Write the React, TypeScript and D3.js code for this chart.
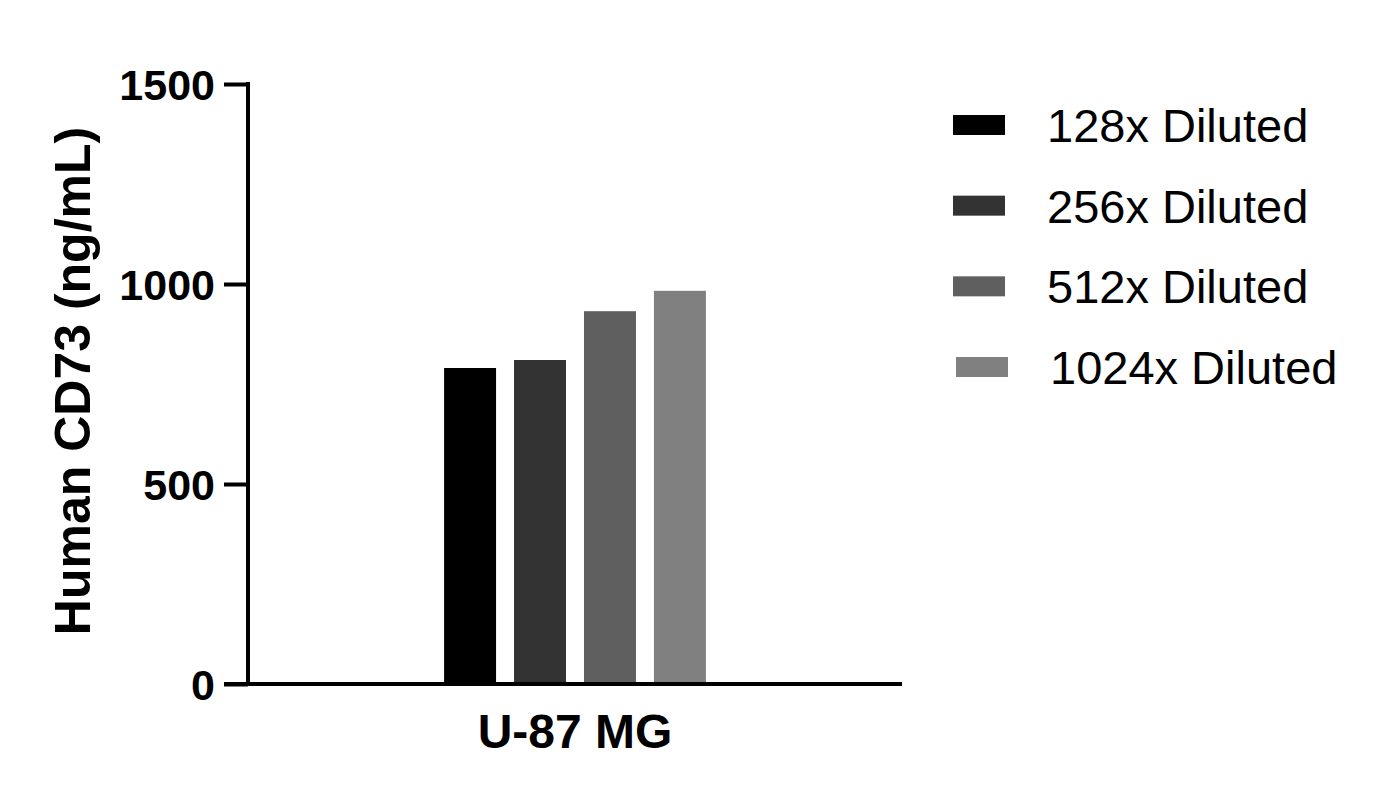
import { useEffect, useRef } from 'react';
import * as d3 from 'd3';

const categories = ['U-87 MG'];
const series = ['128x Diluted', '256x Diluted', '512x Diluted', '1024x Diluted'];
const values = [790, 810, 932, 983];
const colors = ['#000000', '#333333', '#5f5f5f', '#808080'];
const yTicks = [0, 500, 1000, 1500];

export default function App() {
  const svgRef = useRef<SVGSVGElement>(null);

  useEffect(() => {
    if (!svgRef.current) return;
    const W = 1386;
    const H = 804;
    const svg = d3.select(svgRef.current);
    svg.selectAll('*').remove();
    svg.attr('width', W).attr('height', H);

    const font = 'Liberation Sans, Arial, Helvetica, sans-serif';
    const left = 248;
    const right = 902;
    const top = 84;
    const bottom = 684;

    const yScale = d3.scaleLinear().domain([0, 1500]).range([bottom, top]);
    const x0 = d3.scaleBand().domain(categories).range([left, right]);
    const groupW = 280;
    const cx = x0(categories[0])! + x0.bandwidth() / 2;
    const x1 = d3.scaleBand()
      .domain(series)
      .range([cx - groupW / 2, cx + groupW / 2])
      .paddingInner(0.257)
      .paddingOuter(0.13);

    // Bars
    svg.append('g')
      .selectAll('rect')
      .data(series)
      .join('rect')
      .attr('x', (d) => x1(d)!)
      .attr('y', (_, i) => yScale(values[i]))
      .attr('width', x1.bandwidth())
      .attr('height', (_, i) => bottom - yScale(values[i]))
      .attr('fill', (_, i) => colors[i]);

    // Y axis
    const yAxis = svg.append('g')
      .attr('transform', `translate(${left},0)`)
      .call(d3.axisLeft(yScale).tickValues(yTicks).tickSize(24).tickPadding(9).tickFormat((d) => `${d}`));
    yAxis.select('.domain')
      .attr('d', `M0,${top - 2}V${bottom + 2}`)
      .attr('stroke', '#000')
      .attr('stroke-width', 4);
    yAxis.selectAll('.tick line').attr('stroke', '#000').attr('stroke-width', 4);
    yAxis.selectAll('.tick text')
      .attr('fill', '#000')
      .attr('font-family', font)
      .attr('font-weight', 'bold')
      .attr('font-size', '43px')
      .attr('dy', '0.36em');

    // X axis
    const xAxis = svg.append('g')
      .attr('transform', `translate(0,${bottom})`)
      .call(d3.axisBottom(x0).tickSize(0).tickPadding(30));
    xAxis.select('.domain')
      .attr('d', `M${left - 24},0H${right}`)
      .attr('stroke', '#000')
      .attr('stroke-width', 4);
    xAxis.selectAll('.tick text')
      .attr('fill', '#000')
      .attr('font-family', font)
      .attr('font-weight', 'bold')
      .attr('font-size', '48px');

    // Y title
    svg.append('text')
      .attr('transform', `translate(90,${(top + bottom) / 2 - 3}) rotate(-90)`)
      .attr('text-anchor', 'middle')
      .attr('font-family', font)
      .attr('font-weight', 'bold')
      .attr('font-size', '50px')
      .attr('fill', '#000')
      .text('Human CD73 (ng/mL)');

    // Legend
    const legend = svg.append('g');
    const ly = d3.scaleLinear().domain([0, series.length - 1]).range([125, 367]);
    series.forEach((s, i) => {
      const shift = i === series.length - 1 ? 3 : 0;
      legend.append('rect')
        .attr('x', 953 + shift)
        .attr('y', ly(i) - 10)
        .attr('width', 52)
        .attr('height', 20)
        .attr('fill', colors[i]);
      legend.append('text')
        .attr('x', 1047 + shift)
        .attr('y', ly(i) + 17)
        .attr('font-family', font)
        .attr('font-size', '47px')
        .attr('fill', '#000')
        .text(s);
    });
  }, []);

  return (
    <div style={{ position: 'absolute', left: 0, top: 0, background: '#fff' }}>
      <svg ref={svgRef} style={{ display: 'block' }} />
    </div>
  );
}
